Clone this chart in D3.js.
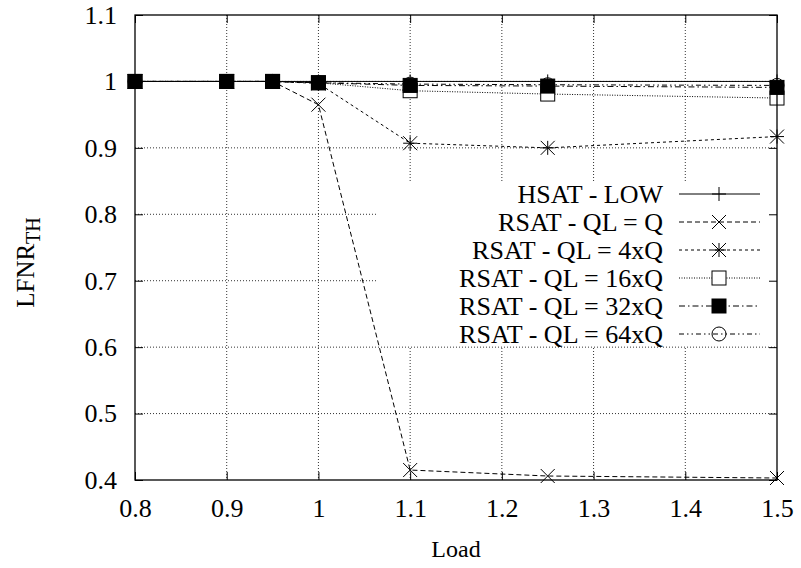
<!DOCTYPE html>
<html>
<head>
<meta charset="utf-8">
<script src="https://cdn.jsdelivr.net/npm/d3@7"></script>
<style>
  body { margin: 0; background: #fff; }
</style>
</head>
<body>
<div id="chart"></div>
<script>
// Data
const loads = [0.8, 0.9, 0.95, 1.0, 1.1, 1.25, 1.5];
const hsatLow = [1, 1, 1, 1, 1, 1, 1];
const rsatQ = [1, 1, 1, 0.965, 0.415, 0.406, 0.403];
const rsat4Q = [1, 1, 1, 0.997, 0.907, 0.900, 0.917];
const rsat16Q = [1, 1, 1, 0.998, 0.986, 0.981, 0.975];
const rsat32Q = [1, 1, 1, 0.998, 0.994, 0.993, 0.991];
const rsat64Q = [1, 1, 1, 0.998, 0.996, 0.995, 0.994];

const xTicks = [0.8, 0.9, 1, 1.1, 1.2, 1.3, 1.4, 1.5];
const yTicks = [0.4, 0.5, 0.6, 0.7, 0.8, 0.9, 1, 1.1];

const series = [
  { name: "HSAT - LOW", values: hsatLow, dash: null, marker: "plus" },
  { name: "RSAT - QL = Q", values: rsatQ, dash: "5,3", marker: "cross" },
  { name: "RSAT - QL = 4xQ", values: rsat4Q, dash: "3,3", marker: "star" },
  { name: "RSAT - QL = 16xQ", values: rsat16Q, dash: "1,1.5", marker: "box" },
  { name: "RSAT - QL = 32xQ", values: rsat32Q, dash: "6,3,1.5,3", marker: "fbox" },
  { name: "RSAT - QL = 64xQ", values: rsat64Q, dash: "5,3,1.5,3,1.5,3", marker: "circle" }
];

const FONT = "'Liberation Serif', 'Times New Roman', serif";
const FS = "26px";

// Dimensions
const W = 801, H = 568;
const margin = { top: 15, right: 24, bottom: 88, left: 135 };
const width = W - margin.left - margin.right;
const height = H - margin.top - margin.bottom;

const svg = d3.select("#chart")
  .append("svg")
    .attr("width", W)
    .attr("height", H);

const g = svg.append("g")
  .attr("transform", `translate(${margin.left},${margin.top})`);

// Scales
const x = d3.scaleLinear().domain([0.8, 1.5]).range([0, width]);
const y = d3.scaleLinear().domain([0.4, 1.1]).range([height, 0]);

// Grid
g.append("g")
  .selectAll("line")
  .data(xTicks.slice(1, -1))
  .enter().append("line")
    .attr("x1", d => x(d)).attr("x2", d => x(d))
    .attr("y1", 0).attr("y2", height)
    .attr("stroke", "#333").attr("stroke-width", 1)
    .attr("stroke-dasharray", "1,2");

g.append("g")
  .selectAll("line")
  .data(yTicks.slice(1, -1))
  .enter().append("line")
    .attr("x1", 0).attr("x2", width)
    .attr("y1", d => y(d)).attr("y2", d => y(d))
    .attr("stroke", "#333").attr("stroke-width", 1)
    .attr("stroke-dasharray", "1,2");

// Legend box (opaque, hides the grid behind it)
const legendX = 243, legendY = 166;
g.append("rect")
  .attr("x", legendX).attr("y", legendY)
  .attr("width", width - legendX - 1)
  .attr("height", 165)
  .attr("fill", "#fff");

// Marker drawing
function drawMarker(sel, type, cx, cy) {
  const s = 7;
  const m = sel.append("g").attr("transform", `translate(${cx},${cy})`);
  const ln = (x1, y1, x2, y2) => m.append("line")
    .attr("x1", x1).attr("y1", y1).attr("x2", x2).attr("y2", y2)
    .attr("stroke", "#000").attr("stroke-width", 1);
  if (type === "plus" || type === "star") {
    ln(-s, 0, s, 0); ln(0, -s, 0, s);
  }
  if (type === "cross" || type === "star") {
    ln(-s, -s, s, s); ln(-s, s, s, -s);
  }
  if (type === "box" || type === "fbox") {
    m.append("rect")
      .attr("x", -s).attr("y", -s).attr("width", 2 * s).attr("height", 2 * s)
      .attr("fill", type === "fbox" ? "#000" : "#fff")
      .attr("stroke", "#000").attr("stroke-width", 1);
  }
  if (type === "circle") {
    m.append("circle").attr("r", s)
      .attr("fill", "none").attr("stroke", "#000").attr("stroke-width", 1);
  }
}

// Lines
const line = d3.line().x(d => x(d[0])).y(d => y(d[1]));
series.forEach(s => {
  g.append("path")
    .datum(loads.map((l, i) => [l, s.values[i]]))
    .attr("d", line)
    .attr("fill", "none")
    .attr("stroke", "#000")
    .attr("stroke-width", 1)
    .attr("stroke-dasharray", s.dash);
});

// Markers
series.forEach(s => {
  loads.forEach((l, i) => drawMarker(g, s.marker, x(l), y(s.values[i])));
});

// Border
g.append("rect")
  .attr("x", 0).attr("y", 0).attr("width", width).attr("height", height)
  .attr("fill", "none").attr("stroke", "#000").attr("stroke-width", 1.3);

// Axes (inward ticks, mirrored)
const xAxis = g.append("g")
  .attr("transform", `translate(0,${height})`)
  .call(d3.axisBottom(x).tickValues(xTicks).tickSizeInner(-8).tickSizeOuter(0).tickPadding(19)
    .tickFormat(d3.format("")));
xAxis.select(".domain").remove();
xAxis.selectAll("text").style("font-family", FONT).style("font-size", FS).attr("fill", "#000");

const xTop = g.append("g")
  .call(d3.axisTop(x).tickValues(xTicks).tickSizeInner(-8).tickSizeOuter(0).tickFormat(""));
xTop.select(".domain").remove();

const yAxis = g.append("g")
  .call(d3.axisLeft(y).tickValues(yTicks).tickSizeInner(-8).tickSizeOuter(0).tickPadding(18)
    .tickFormat(d3.format("")));
yAxis.select(".domain").remove();
yAxis.selectAll("text").style("font-family", FONT).style("font-size", FS).attr("fill", "#000");

const yRight = g.append("g")
  .attr("transform", `translate(${width},0)`)
  .call(d3.axisRight(y).tickValues(yTicks).tickSizeInner(-8).tickSizeOuter(0).tickFormat(""));
yRight.select(".domain").remove();

// Axis titles
svg.append("text")
  .attr("x", margin.left + width / 2)
  .attr("y", 557)
  .attr("text-anchor", "middle")
  .style("font-family", FONT)
  .style("font-size", "24px")
  .text("Load");

const yTitle = svg.append("text")
  .attr("transform", `translate(34,${margin.top + height / 2 + 15}) rotate(-90)`)
  .attr("text-anchor", "middle")
  .style("font-family", FONT)
  .style("font-size", "25px");
yTitle.append("tspan").text("LFNR");
yTitle.append("tspan").attr("dy", 6).style("font-size", "20px").text("TH");

// Legend
const legend = g.append("g")
  .attr("transform", `translate(0, ${legendY + 13})`);
const rowH = 28;
series.forEach((s, i) => {
  const yy = i * rowH;
  legend.append("text")
    .attr("x", 528)
    .attr("y", yy)
    .attr("dy", "0.35em")
    .attr("text-anchor", "end")
    .style("font-family", FONT)
    .style("font-size", FS)
    .text(s.name);
  legend.append("line")
    .attr("x1", 544).attr("x2", 625)
    .attr("y1", yy).attr("y2", yy)
    .attr("stroke", "#000").attr("stroke-width", 1)
    .attr("stroke-dasharray", s.dash);
  drawMarker(legend, s.marker, 584, yy);
});
</script>
</body>
</html>
